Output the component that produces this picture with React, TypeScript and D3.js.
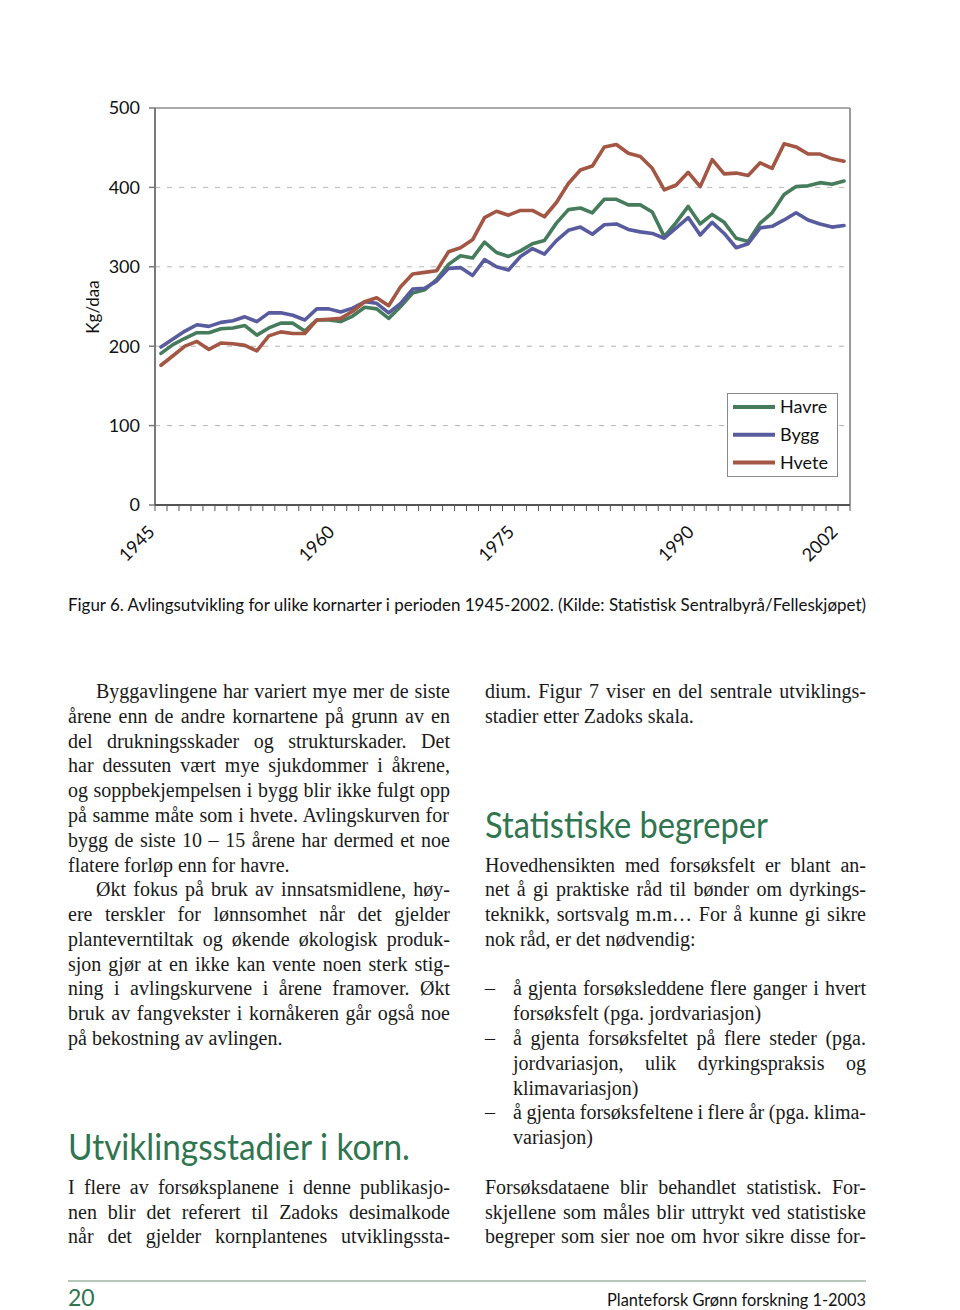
import React from 'react';
import * as d3 from 'd3';

const YEARS = [1945,1946,1947,1948,1949,1950,1951,1952,1953,1954,1955,1956,1957,1958,1959,1960,1961,1962,1963,1964,1965,1966,1967,1968,1969,1970,1971,1972,1973,1974,1975,1976,1977,1978,1979,1980,1981,1982,1983,1984,1985,1986,1987,1988,1989,1990,1991,1992,1993,1994,1995,1996,1997,1998,1999,2000,2001,2002];
const HAVRE = [191,202,210,217,217,222,223,226,214,223,229,229,219,233,233,231,238,249,247,235,250,267,271,284,303,314,311,331,318,313,320,329,333,355,372,374,368,385,385,378,378,369,338,356,376,354,366,356,336,332,355,368,391,401,402,406,404,408];
const BYGG = [199,209,219,227,225,230,232,237,231,242,242,239,233,247,247,243,248,256,254,242,254,272,273,282,298,299,289,309,300,296,313,323,316,333,346,350,341,353,354,347,344,342,336,349,362,340,356,342,324,329,349,351,359,368,359,354,350,352];
const HVETE = [176,188,200,206,196,204,203,201,194,213,218,216,216,233,234,235,244,256,261,251,275,291,293,295,319,324,334,362,370,365,371,371,363,381,405,422,427,451,454,443,439,424,397,403,419,401,435,417,418,415,431,424,455,451,442,442,436,433];
const SERIES_NAMES = ['Havre', 'Bygg', 'Hvete'];
const SERIES_COLORS = ['#467c5c', '#585b9e', '#a35643'];
const Y_TICKS = [0, 100, 200, 300, 400, 500];
const X_LABELS = [1945, 1960, 1975, 1990, 2002];
const Y_TITLE = 'Kg/daa';
const CAPTION = 'Figur 6. Avlingsutvikling for ulike kornarter i perioden 1945-2002. (Kilde: Statistisk Sentralbyrå/Felleskjøpet)';

// [text, justified, indent]
const LEFT_LINES: [string, boolean, boolean][] = [
  ['Byggavlingene har variert mye mer de siste', true, true],
  ['årene enn de andre kornartene på grunn av en', true, false],
  ['del drukningsskader og strukturskader. Det', true, false],
  ['har dessuten vært mye sjukdommer i åkrene,', true, false],
  ['og soppbekjempelsen i bygg blir ikke fulgt opp', true, false],
  ['på samme måte som i hvete. Avlingskurven for', true, false],
  ['bygg de siste 10 – 15 årene har dermed et noe', true, false],
  ['flatere forløp enn for havre.', false, false],
  ['Økt fokus på bruk av innsatsmidlene, høy-', true, true],
  ['ere terskler for lønnsomhet når det gjelder', true, false],
  ['planteverntiltak og økende økologisk produk-', true, false],
  ['sjon gjør at en ikke kan vente noen sterk stig-', true, false],
  ['ning i avlingskurvene i årene framover. Økt', true, false],
  ['bruk av fangvekster i kornåkeren går også noe', true, false],
  ['på bekostning av avlingen.', false, false],
];
const LEFT_LINES_2: [string, boolean, boolean][] = [
  ['I flere av forsøksplanene i denne publikasjo-', true, false],
  ['nen blir det referert til Zadoks desimalkode', true, false],
  ['når det gjelder kornplantenes utviklingssta-', true, false],
];
const HEADING_1 = 'Utviklingsstadier i korn.';
const HEADING_2 = 'Statistiske begreper';
// [lineIndex, text, justified, xOffset, bullet]
const RIGHT_LINES: [number, string, boolean, number, boolean][] = [
  [0, 'dium. Figur 7 viser en del sentrale utviklings-', true, 0, false],
  [1, 'stadier etter Zadoks skala.', false, 0, false],
  [7, 'Hovedhensikten med forsøksfelt er blant an-', true, 0, false],
  [8, 'net å gi praktiske råd til bønder om dyrkings-', true, 0, false],
  [9, 'teknikk, sortsvalg m.m… For å kunne gi sikre', true, 0, false],
  [10, 'nok råd, er det nødvendig:', false, 0, false],
  [12, 'å gjenta forsøksleddene flere ganger i hvert', true, 28, true],
  [13, 'forsøksfelt (pga. jordvariasjon)', false, 28, false],
  [14, 'å gjenta forsøksfeltet på flere steder (pga.', true, 28, true],
  [15, 'jordvariasjon, ulik dyrkingspraksis og', true, 28, false],
  [16, 'klimavariasjon)', false, 28, false],
  [17, 'å gjenta forsøksfeltene i flere år (pga. klima-', true, 28, true],
  [18, 'variasjon)', false, 28, false],
  [20, 'Forsøksdataene blir behandlet statistisk. For-', true, 0, false],
  [21, 'skjellene som måles blir uttrykt ved statistiske', true, 0, false],
  [22, 'begreper som sier noe om hvor sikre disse for-', true, 0, false],
];
const FOOTER_PAGE = '20';
const FOOTER_TEXT = 'Planteforsk Grønn forskning 1-2003';

const SANS = 'Lato, "Open Sans", sans-serif';
const SERIF_NAME = 'Liberation Serif';
const SERIF = '"Liberation Serif", "DejaVu Serif", serif';
const GREEN = '#2f7550';
const BODY_SIZE = 20;

let ctx: CanvasRenderingContext2D | null = null;
function measure(t: string): number {
  if (!ctx) {
    const c = document.createElement('canvas');
    ctx = c.getContext('2d');
  }
  if (!ctx) return t.length * 8.8;
  ctx.font = `${BODY_SIZE}px "${SERIF_NAME}"`;
  return ctx.measureText(t).width;
}

function BodyLine({ x, y, text, width, justify }: { x: number; y: number; text: string; width: number; justify: boolean }) {
  const common = { x, y, fontFamily: SERIF, fontSize: BODY_SIZE, fill: '#1a1a1a' };
  const natural = measure(text);
  if (!justify) {
    if (natural > width) return <text {...common} textLength={width} lengthAdjust="spacingAndGlyphs">{text}</text>;
    return <text {...common}>{text}</text>;
  }
  const spaces = (text.match(/ /g) || []).length;
  const ws = spaces > 0 ? (width - natural) / spaces : 0;
  if (ws < -1.5 || spaces === 0) {
    return <text {...common} textLength={width} lengthAdjust="spacingAndGlyphs">{text}</text>;
  }
  return <text {...common} style={{ wordSpacing: `${ws}px` }}>{text}</text>;
}

export default function App() {
  const left = 155, right = 850, top = 108, bottom = 505;
  const x = d3.scaleBand<number>().domain(YEARS).range([left, right]).padding(0);
  const y = d3.scaleLinear().domain([0, 500]).range([bottom, top]);
  const cx = (yr: number) => (x(yr) as number) + x.bandwidth() / 2;
  const series = [HAVRE, BYGG, HVETE];
  const line = d3.line<number>().x((_, i) => cx(YEARS[i])).y((v) => y(v));

  const colL = 68, colLW = 382, colR = 485, colRW = 381;
  const base0 = 698, lh = 24.79;

  const boundaries = YEARS.map((yr) => x(yr) as number).concat([right]);

  return (
    <svg width={960} height={1310} style={{ position: 'absolute', left: 0, top: 0, background: '#fff' }}>
      <rect x={0} y={0} width={960} height={1310} fill="#fff" />
      {/* gridlines */}
      {Y_TICKS.filter((t) => t > 0 && t < 500).map((t) => (
        <line key={'g' + t} x1={left} x2={right} y1={y(t)} y2={y(t)} stroke="#b4b4b4" strokeWidth={1} strokeDasharray="5,7" />
      ))}
      <line x1={left} x2={right} y1={y(500)} y2={y(500)} stroke="#8c8c8c" strokeWidth={1.5} />
      <line x1={right} x2={right} y1={top} y2={bottom} stroke="#9a9a9a" strokeWidth={2} />
      {/* y axis */}
      <line x1={left} x2={left} y1={top} y2={bottom} stroke="#7a7a7a" strokeWidth={2} />
      {Y_TICKS.map((t) => (
        <g key={'yt' + t}>
          <line x1={left - 6} x2={left} y1={y(t)} y2={y(t)} stroke="#7a7a7a" strokeWidth={1.5} />
          <text x={140} y={y(t)} dy="0.35em" textAnchor="end" fontFamily={SANS} fontSize={18} fill="#111">{t}</text>
        </g>
      ))}
      <text transform={`translate(99,307) rotate(-90)`} textAnchor="middle" fontFamily={SANS} fontSize={17} fill="#111">{Y_TITLE}</text>
      {/* x axis */}
      <line x1={left} x2={right} y1={bottom} y2={bottom} stroke="#555" strokeWidth={2} />
      {boundaries.map((bx, i) => (
        <line key={'xt' + i} x1={bx} x2={bx} y1={bottom} y2={bottom + 6} stroke="#555" strokeWidth={1} />
      ))}
      {X_LABELS.map((yr) => (
        <text key={'xl' + yr} transform={`translate(${cx(yr) - 5},533) rotate(-45)`} textAnchor="end" fontFamily={SANS} fontSize={18} fill="#111">{yr}</text>
      ))}
      {/* lines */}
      {series.map((s, k) => (
        <path key={'s' + k} d={line(s) as string} fill="none" stroke={SERIES_COLORS[k]} strokeWidth={3.6} strokeLinejoin="round" strokeLinecap="round" />
      ))}
      {/* legend */}
      <rect x={727.5} y={393.5} width={110} height={83} fill="#fff" stroke="#8a8a8a" strokeWidth={1} />
      {SERIES_NAMES.map((n, k) => {
        const ly = 407 + k * 27.8;
        return (
          <g key={'lg' + n}>
            <line x1={733} x2={775} y1={ly} y2={ly} stroke={SERIES_COLORS[k]} strokeWidth={4} />
            <text x={780} y={ly} dy="0.35em" fontFamily={SANS} fontSize={18} fill="#111">{n}</text>
          </g>
        );
      })}
      {/* caption */}
      <text x={68} y={611} fontFamily={SANS} fontSize={16.5} fill="#111" textLength={798} lengthAdjust="spacingAndGlyphs">{CAPTION}</text>
      {/* left column */}
      {LEFT_LINES.map(([t, j, ind], i) => {
        const xo = ind ? 28 : 0;
        return <BodyLine key={'l' + i} x={colL + xo} y={base0 + i * lh} text={t} width={colLW - xo} justify={j} />;
      })}
      <text x={68} y={1160} fontFamily={SANS} fontSize={36} fill={GREEN} textLength={342} lengthAdjust="spacingAndGlyphs">{HEADING_1}</text>
      {LEFT_LINES_2.map(([t, j], i) => (
        <BodyLine key={'l2' + i} x={colL} y={base0 + (20 + i) * lh} text={t} width={colLW} justify={j} />
      ))}
      {/* right column */}
      <text x={485} y={838} fontFamily={SANS} fontSize={36} fill={GREEN} textLength={283} lengthAdjust="spacingAndGlyphs">{HEADING_2}</text>
      {RIGHT_LINES.map(([idx, t, j, xo, b], i) => (
        <g key={'r' + i}>
          {b && <text x={colR} y={base0 + idx * lh} fontFamily={SERIF} fontSize={BODY_SIZE} fill="#1a1a1a">–</text>}
          <BodyLine x={colR + xo} y={base0 + idx * lh} text={t} width={colRW - xo} justify={j} />
        </g>
      ))}
      {/* footer */}
      <line x1={68} x2={866} y1={1281} y2={1281} stroke="#6f8f78" strokeWidth={1.2} />
      <text x={68} y={1306} fontFamily={SANS} fontSize={23} fill={GREEN}>{FOOTER_PAGE}</text>
      <text x={866} y={1306} textAnchor="end" fontFamily={SANS} fontSize={17} fill="#111" textLength={259} lengthAdjust="spacingAndGlyphs">{FOOTER_TEXT}</text>
    </svg>
  );
}
